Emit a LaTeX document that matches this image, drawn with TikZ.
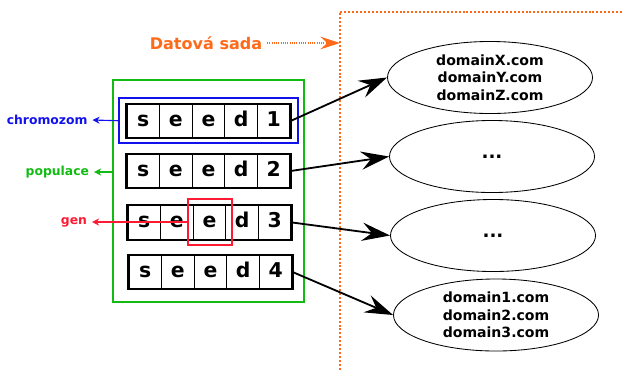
\documentclass[tikz,border=0pt]{standalone}
\usepackage{fontspec}
\setmainfont{DejaVu Sans}
\usetikzlibrary{positioning, calc, shapes.geometric}
\usetikzlibrary{arrows, arrows.meta}
\tikzset{>=latex}
\definecolor{dsorange}{HTML}{FF6A1A}
\definecolor{popgreen}{HTML}{11BB11}
\definecolor{chromblue}{HTML}{1111EE}
\definecolor{genred}{HTML}{FF1A33}
\tikzset{
  cell/.style={draw, line width=0.8pt, minimum width=0.815cm, minimum height=0.835cm,
    inner sep=0pt, text height=10.5pt, text depth=3pt, font=\fontsize{14.5}{16}\selectfont\bfseries},
  domainell/.style={draw, ellipse, line width=0.6pt, minimum width=5.125cm, minimum height=1.8cm,
    inner sep=0pt, align=center, font=\fontsize{10}{12.4}\selectfont\bfseries},
  tag/.style={anchor=east, font=\fontsize{8.8}{10}\selectfont\bfseries},
  tagarrow/.style={line width=0.8pt, -{Stealth[length=5pt, width=5pt, inset=1.5pt]}},
  link/.style={line width=1.3pt, -{Stealth[length=20pt, width=13pt, inset=7pt]}},
}

\begin{document}
\begin{tikzpicture}[x=0.025cm, y=-0.025cm]
  \useasboundingbox (0,0) rectangle (622,370);

  % Data set border
  \draw[dsorange, line width=1.3pt, dash pattern=on 1.4pt off 1.4pt] (622,12) -- (340,12) -- (340,370);
  \node[text=dsorange, font=\fontsize{11.4}{13}\selectfont\bfseries] (ds) at (206,43) {Datová sada};
  \coordinate (dsedge) at (340,43);
  \draw[dsorange, line width=0.8pt, dash pattern=on 0.8pt off 0.8pt,
    -{Stealth[length=14pt, width=9pt, inset=5pt]}] (ds.east) -- (dsedge);

  % Population
  \node[draw=popgreen, line width=1.4pt, minimum width=4.775cm, minimum height=5.55cm] (pop) at (208.5,191) {};
  \node[draw=chromblue, line width=1.4pt, minimum width=4.475cm, minimum height=1.125cm] (chrom) at (208.5,120.7) {};

  % Chromosomes
  \foreach \r/\x/\y in {1/127/121, 2/127/171, 3/128/222.4, 4/129/272}{
    \foreach \l [count=\c] in {s,e,e,d,\r}
      \node[cell] (c\r\c) at ({\x+16.3+(\c-1)*32.6},\y) {\l};
    \draw[line width=1.5pt] (c\r1.north west) rectangle (c\r5.south east);
  }

  % Gene
  \node[draw=genred, line width=1.4pt, minimum width=1.1cm, minimum height=1.15cm] (gene) at (210,222) {};

  % Domains
  \node[domainell] (d1) at (490,77.5) {domainX.com\\domainY.com\\domainZ.com};
  \node[domainell, font=\fontsize{13}{15}\selectfont\bfseries] (d2) at (492,156.5) {...};
  \node[domainell, font=\fontsize{13}{15}\selectfont\bfseries] (d3) at (493,235.5) {...};
  \node[domainell] (d4) at (496,315) {domain1.com\\domain2.com\\domain3.com};

  % Labels
  \node[tag, text=chromblue] (lchrom) at (92.5,120) {chromozom};
  \node[tag, text=popgreen] (lpop) at (94,172) {populace};
  \node[tag, text=genred] (lgen) at (92,222) {gen};

  % Arrows
  \draw[tagarrow, chromblue] (chrom.west) -- (lchrom.east);
  \draw[tagarrow, popgreen] (lpop.east -| pop.west) -- (lpop.east);
  \draw[tagarrow, genred] (gene.west) -- (lgen.east);
  \foreach \r in {1,...,4}
    \draw[link] (c\r5.east) -- (d\r.west);
\end{tikzpicture}
\end{document}
